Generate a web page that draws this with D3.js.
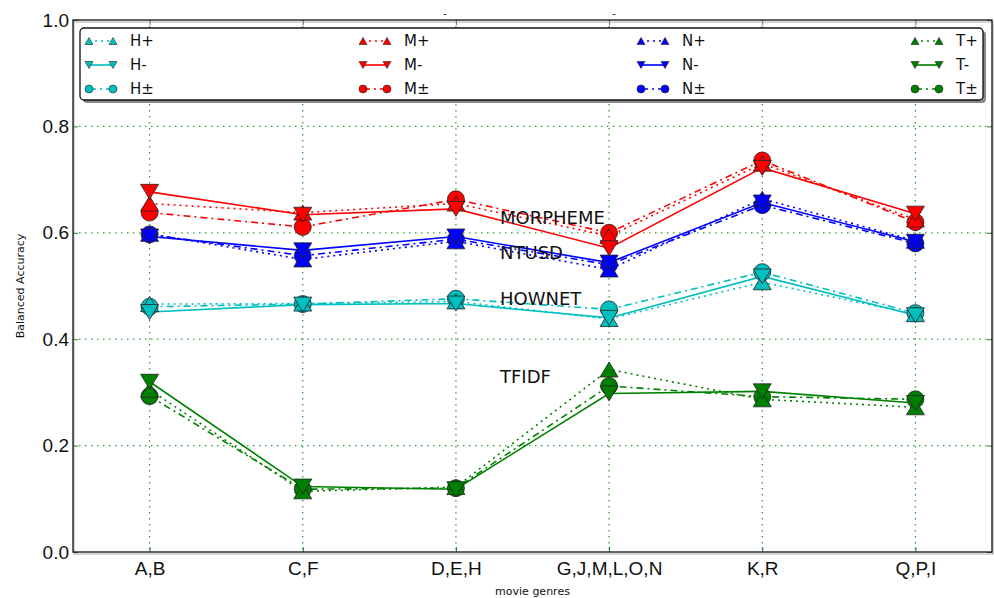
<!DOCTYPE html>
<html>
<head>
<meta charset="utf-8">
<script src="https://cdn.jsdelivr.net/npm/d3@7"></script>
<style>
  html, body { margin: 0; padding: 0; background: #fff; }
  svg { display: block; font-family: "DejaVu Sans", sans-serif; }
</style>
</head>
<body>
<svg id="chart" width="994" height="598"></svg>
<script>
// Genre groups on the x axis
const categories = ["A,B", "C,F", "D,E,H", "G,J,M,L,O,N", "K,R", "Q,P,I"];
const yTicks = [0.0, 0.2, 0.4, 0.6, 0.8, 1.0];

// Balanced accuracy per lexicon (H = HOWNET, M = MORPHEME, N = NTUSD, T = TFIDF)
const hPlus  = [0.466, 0.467, 0.471, 0.438, 0.507, 0.447];
const hMinus = [0.451, 0.465, 0.467, 0.440, 0.518, 0.445];
const hBoth  = [0.461, 0.466, 0.476, 0.456, 0.526, 0.449];

const mPlus  = [0.655, 0.638, 0.655, 0.594, 0.730, 0.625];
const mMinus = [0.677, 0.634, 0.645, 0.571, 0.722, 0.636];
const mBoth  = [0.638, 0.611, 0.663, 0.600, 0.736, 0.620];

const nPlus  = [0.598, 0.550, 0.584, 0.531, 0.664, 0.585];
const nMinus = [0.593, 0.567, 0.593, 0.544, 0.657, 0.583];
const nBoth  = [0.597, 0.557, 0.588, 0.540, 0.652, 0.580];

const tPlus  = [0.305, 0.114, 0.122, 0.343, 0.287, 0.272];
const tMinus = [0.320, 0.123, 0.118, 0.298, 0.302, 0.280];
const tBoth  = [0.293, 0.118, 0.120, 0.312, 0.292, 0.287];

const groupLabels = [
  { text: "MORPHEME", y: 0.628 },
  { text: "NTUSD",    y: 0.562 },
  { text: "HOWNET",   y: 0.476 },
  { text: "TFIDF",    y: 0.330 }
];

const colors = { H: "#00bfbf", M: "#ff0000", N: "#0000ff", T: "#008000" };
const styles = {
  plus:  { dash: "2,4",       marker: "up" },
  minus: { dash: null,        marker: "down" },
  both:  { dash: "7,4,2,4",   marker: "circle" }
};

const series = [
  { name: "H+", group: "H", kind: "plus",  values: hPlus },
  { name: "H-", group: "H", kind: "minus", values: hMinus },
  { name: "H\u00b1", group: "H", kind: "both",  values: hBoth },
  { name: "M+", group: "M", kind: "plus",  values: mPlus },
  { name: "M-", group: "M", kind: "minus", values: mMinus },
  { name: "M\u00b1", group: "M", kind: "both",  values: mBoth },
  { name: "N+", group: "N", kind: "plus",  values: nPlus },
  { name: "N-", group: "N", kind: "minus", values: nMinus },
  { name: "N\u00b1", group: "N", kind: "both",  values: nBoth },
  { name: "T+", group: "T", kind: "plus",  values: tPlus },
  { name: "T-", group: "T", kind: "minus", values: tMinus },
  { name: "T\u00b1", group: "T", kind: "both",  values: tBoth }
];

const svg = d3.select("#chart");
const plotLeft = 73, plotRight = 992, plotTop = 20, plotBottom = 552;

const x = d3.scalePoint().domain(categories).range([plotLeft, plotRight]).padding(0.5);
const y = d3.scaleLinear().domain([0, 1]).range([plotBottom, plotTop]);

// marker shapes centred on their bounding box
function markerPath(type, w, h) {
  if (type === "up")   return `M0,${-h/2}L${w/2},${h/2}L${-w/2},${h/2}Z`;
  if (type === "down") return `M0,${h/2}L${w/2},${-h/2}L${-w/2},${-h/2}Z`;
  const r = w / 2;
  return `M${r},0A${r},${r} 0 1,1 ${-r},0A${r},${r} 0 1,1 ${r},0Z`;
}

// grid
const gridColor = "#3a9a3a";
svg.append("g").selectAll("line").data(categories).join("line")
  .attr("x1", d => x(d)).attr("x2", d => x(d))
  .attr("y1", plotTop).attr("y2", plotBottom)
  .attr("stroke", gridColor).attr("stroke-width", 1.3)
  .attr("stroke-dasharray", "1.5,4.5");
svg.append("g").selectAll("line").data(yTicks.slice(1, -1)).join("line")
  .attr("x1", plotLeft).attr("x2", plotRight)
  .attr("y1", d => y(d)).attr("y2", d => y(d))
  .attr("stroke", gridColor).attr("stroke-width", 1.3)
  .attr("stroke-dasharray", "1.5,4.5");

// axes with inward ticks
const xAxis = svg.append("g").attr("transform", `translate(0,${plotBottom})`)
  .call(d3.axisBottom(x).tickSizeInner(-5).tickSizeOuter(0).tickPadding(10));
const xAxisTop = svg.append("g").attr("transform", `translate(0,${plotTop})`)
  .call(d3.axisTop(x).tickSizeInner(-5).tickSizeOuter(0).tickFormat(""));
const yAxis = svg.append("g").attr("transform", `translate(${plotLeft},0)`)
  .call(d3.axisLeft(y).tickValues(yTicks).tickFormat(d3.format(".1f"))
    .tickSizeInner(-5).tickSizeOuter(0).tickPadding(4));
const yAxisRight = svg.append("g").attr("transform", `translate(${plotRight},0)`)
  .call(d3.axisRight(y).tickValues(yTicks).tickFormat("")
    .tickSizeInner(-5).tickSizeOuter(0));
[xAxis, xAxisTop, yAxis, yAxisRight].forEach(g => {
  g.select(".domain").remove();
  g.selectAll(".tick line").attr("stroke", "#2a7a2a").attr("stroke-width", 1);
  g.selectAll(".tick text").attr("fill", "#111").style("font-size", "19px");
});

// plot frame with a light shadow line
svg.append("rect").attr("x", plotLeft + 1).attr("y", plotTop + 2)
  .attr("width", plotRight - plotLeft).attr("height", plotBottom - plotTop)
  .attr("fill", "none").attr("stroke", "#aaa").attr("stroke-width", 1);
svg.append("rect").attr("x", plotLeft).attr("y", plotTop)
  .attr("width", plotRight - plotLeft).attr("height", plotBottom - plotTop)
  .attr("fill", "none").attr("stroke", "#111").attr("stroke-width", 1.3);

// series lines and markers
const line = d3.line().x((d, i) => x(categories[i])).y(d => y(d));
const plot = svg.append("g");
series.forEach(s => {
  plot.append("path").datum(s.values)
    .attr("d", line)
    .attr("fill", "none")
    .attr("stroke", colors[s.group])
    .attr("stroke-width", 1.6)
    .attr("stroke-dasharray", styles[s.kind].dash);
});
// circles first, then triangles over them
const markerOrder = ["both", "plus", "minus"];
markerOrder.forEach(kind => {
  series.filter(s => s.kind === kind).forEach(s => {
    const shape = styles[s.kind].marker;
    const w = shape === "circle" ? 17 : 18;
    const h = shape === "circle" ? 17 : 15;
    plot.append("g").selectAll("path").data(s.values).join("path")
      .attr("d", markerPath(shape, w, h))
      .attr("transform", (d, i) => `translate(${x(categories[i])},${y(d)})`)
      .attr("fill", colors[s.group])
      .attr("stroke", "#222")
      .attr("stroke-width", 0.8);
  });
});

// group labels
svg.append("g").selectAll("text").data(groupLabels).join("text")
  .attr("x", 500).attr("y", d => y(d.y))
  .attr("dy", "0.36em")
  .style("font-size", "18px").attr("fill", "#111")
  .text(d => d.text);

// axis titles
svg.append("text")
  .attr("transform", `translate(24,${(plotTop + plotBottom) / 2}) rotate(-90)`)
  .attr("text-anchor", "middle").style("font-size", "11px").attr("fill", "#111")
  .text("Balanced Accuracy");
svg.append("text")
  .attr("x", (plotLeft + plotRight) / 2).attr("y", 595)
  .attr("text-anchor", "middle").style("font-size", "11px").attr("fill", "#111")
  .text("movie genres");

// small title marks above the frame
svg.append("g").selectAll("text").data([x("D,E,H") - 11, x("G,J,M,L,O,N") + 5]).join("text")
  .attr("x", d => d).attr("y", 17)
  .attr("text-anchor", "middle").style("font-size", "10px").attr("fill", "#111")
  .text("-");

// legend (4 columns, filled column by column)
const legX = 80, legY = 28, legW = 903, legH = 72;
const legend = svg.append("g");
legend.append("rect").attr("x", legX + 3).attr("y", legY + 3)
  .attr("width", legW).attr("height", legH).attr("rx", 4)
  .attr("fill", "#888");
legend.append("rect").attr("x", legX).attr("y", legY)
  .attr("width", legW).attr("height", legH).attr("rx", 4)
  .attr("fill", "#fff").attr("stroke", "#111").attr("stroke-width", 1.3);

const colStarts = [89, 363, 641, 915];
const rowYs = [41, 65, 89];
series.forEach((s, k) => {
  const col = Math.floor(k / 3), row = k % 3;
  const x0 = colStarts[col], x1 = x0 + 24, yy = rowYs[row];
  const g = legend.append("g");
  g.append("line").attr("x1", x0).attr("x2", x1).attr("y1", yy).attr("y2", yy)
    .attr("stroke", colors[s.group]).attr("stroke-width", 1.6)
    .attr("stroke-dasharray", styles[s.kind].dash);
  [x0, x1].forEach(px => {
    const shape = styles[s.kind].marker;
    g.append("path")
      .attr("d", markerPath(shape, 8, shape === "circle" ? 8 : 7))
      .attr("transform", `translate(${px},${yy})`)
      .attr("fill", colors[s.group]).attr("stroke", "#222").attr("stroke-width", 0.6);
  });
  g.append("text").attr("x", x1 + 17).attr("y", yy).attr("dy", "0.36em")
    .style("font-size", "15px").attr("fill", "#111").text(s.name);
});
</script>
</body>
</html>
